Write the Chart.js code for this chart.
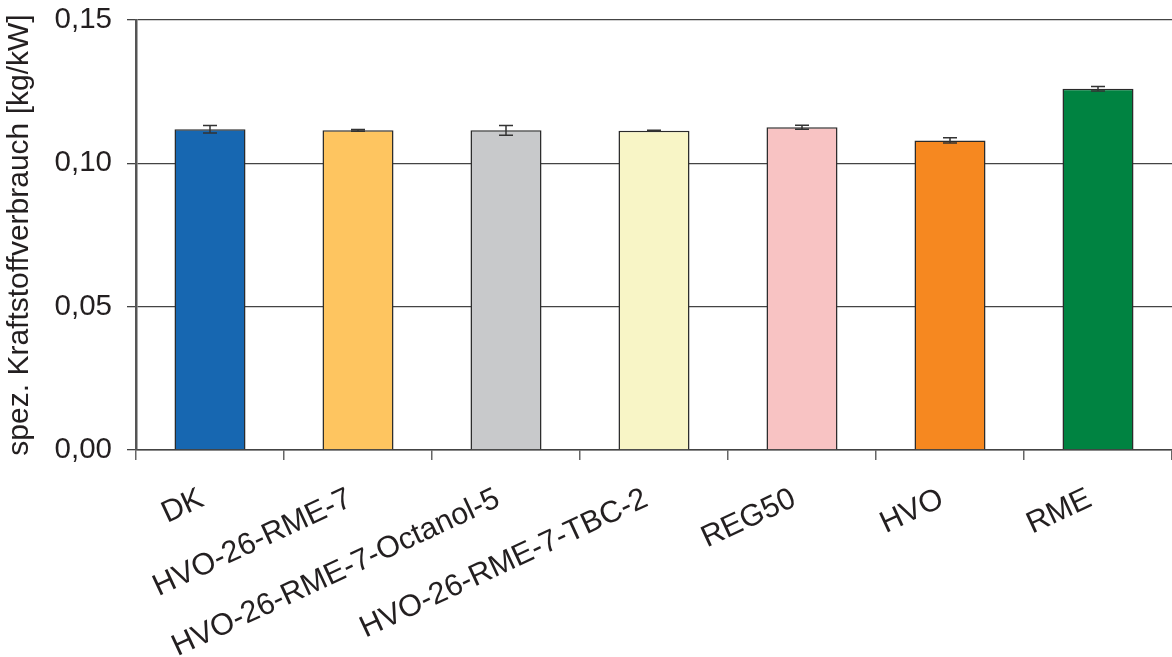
<!DOCTYPE html>
<html>
<head>
<meta charset="utf-8">
<script src="https://cdn.jsdelivr.net/npm/chart.js@4/dist/chart.umd.min.js"></script>
<style>
html,body{margin:0;padding:0;background:#fff;}
#wrap{width:1172px;height:657px;position:relative;}
</style>
</head>
<body>
<div id="wrap"><canvas id="c" width="1172" height="657"></canvas></div>
<script>
const categories = ["DK", "HVO-26-RME-7", "HVO-26-RME-7-Octanol-5", "HVO-26-RME-7-TBC-2", "REG50", "HVO", "RME"];
const values = [0.1119, 0.1115, 0.1115, 0.1114, 0.1126, 0.1080, 0.1260];
const errors = [0.0013, 0.0003, 0.0017, 0.0001, 0.0007, 0.0009, 0.0008];
const barColors = ["#1767b1", "#fec560", "#c8c9cb", "#f8f5c6", "#f8c3c3", "#f68820", "#008341"];
const yTicks = [0, 0.05, 0.10, 0.15];
const yTitle = "spez. Kraftstoffverbrauch [kg/kW]";

const FONT = "'Liberation Sans', Arial, sans-serif";
const TEXT = "#231f20";
const LINE = "#444444";

const errorBarPlugin = {
  id: 'errorBars',
  afterDatasetsDraw(chart) {
    const ctx = chart.ctx;
    const meta = chart.getDatasetMeta(0);
    const ys = chart.scales.y;
    ctx.save();
    ctx.strokeStyle = "#333333";
    ctx.lineWidth = 1.5;
    meta.data.forEach((bar, i) => {
      const x = bar.x;
      const top = ys.getPixelForValue(values[i] + errors[i]);
      const bot = ys.getPixelForValue(values[i] - errors[i]);
      const cap = 7;
      ctx.beginPath();
      ctx.moveTo(x, top); ctx.lineTo(x, bot);
      ctx.moveTo(x - cap, top); ctx.lineTo(x + cap, top);
      ctx.moveTo(x - cap, bot); ctx.lineTo(x + cap, bot);
      ctx.stroke();
    });
    ctx.restore();
  }
};

new Chart(document.getElementById('c'), {
  type: 'bar',
  data: {
    labels: categories,
    datasets: [{
      data: values,
      backgroundColor: barColors,
      borderColor: "#2a2a2a",
      borderWidth: 1.5,
      barPercentage: 0.48,
      categoryPercentage: 1.0
    }]
  },
  options: {
    responsive: false,
    animation: false,
    layout: { padding: { top: 20, right: 0, left: 0, bottom: 0 } },
    plugins: { legend: { display: false }, tooltip: { enabled: false } },
    scales: {
      x: {
        offset: true,
        grid: { display: true, drawOnChartArea: false, drawTicks: true, tickLength: 10, color: "#666666", lineWidth: 1.5, offset: true },
        border: { display: true, color: LINE, width: 1.5 },
        ticks: {
          autoSkip: false,
          maxRotation: 25,
          minRotation: 25,
          padding: 21,
          labelOffset: -8,
          color: TEXT,
          font: { family: FONT, size: 30.5 }
        },
        afterFit(scale) { scale.height = 207; scale.paddingLeft = 0; scale.paddingRight = 0; }
      },
      y: {
        min: 0,
        max: 0.15,
        afterBuildTicks(scale) { scale.ticks = yTicks.map(v => ({ value: v })); },
        grid: { color: LINE, lineWidth: 1.3, tickLength: 9, drawTicks: true },
        border: { display: true, color: "#555555", width: 2.5 },
        ticks: {
          padding: 15,
          color: TEXT,
          font: { family: FONT, size: 29.5 },
          callback: v => v.toFixed(2).replace('.', ',')
        },
        title: {
          display: true,
          text: yTitle,
          color: TEXT,
          font: { family: FONT, size: 30 },
          padding: { top: 2, bottom: 0 }
        },
        afterFit(scale) { scale.width = 136; scale.paddingTop = 0; scale.paddingBottom = 0; }
      }
    }
  },
  plugins: [errorBarPlugin]
});
</script>
</body>
</html>
